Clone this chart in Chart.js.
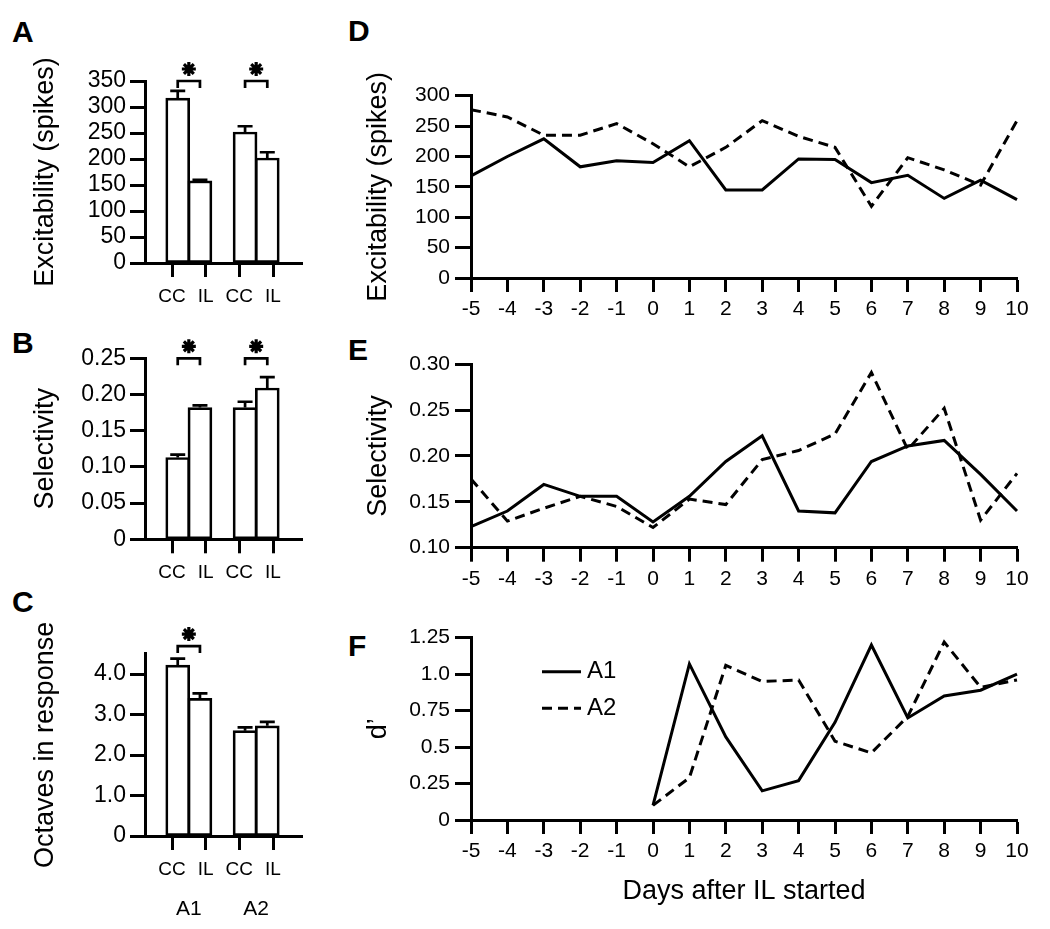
<!DOCTYPE html>
<html>
<head>
<script src="https://cdn.jsdelivr.net/npm/chart.js@4.4.0/dist/chart.umd.min.js"></script>
<style>
  body { margin: 0; background: #fff; width: 1050px; height: 929px; position: relative; overflow: hidden; }
  canvas { position: absolute; }
  .tag { position: absolute; font: bold 30px 'Liberation Sans', Arial, sans-serif; line-height: 30px; }
</style>
</head>
<body>
<div class="tag" style="left:12px;top:17px">A</div>
<div class="tag" style="left:12px;top:328px">B</div>
<div class="tag" style="left:12px;top:587px">C</div>
<div class="tag" style="left:348px;top:16px">D</div>
<div class="tag" style="left:348px;top:335px">E</div>
<div class="tag" style="left:348px;top:631px">F</div>

<canvas id="cA" width="330" height="320" style="left:0;top:0"></canvas>
<canvas id="cB" width="330" height="290" style="left:0;top:300px"></canvas>
<canvas id="cC" width="330" height="329" style="left:0;top:600px"></canvas>
<canvas id="cD" width="710" height="330" style="left:340px;top:0"></canvas>
<canvas id="cE" width="710" height="290" style="left:340px;top:320px"></canvas>
<canvas id="cF" width="710" height="329" style="left:340px;top:600px"></canvas>

<script>
// ---- data (bars ordered CC-A1, IL-A1, CC-A2, IL-A2)
const groups = ['A1', 'A2'];
const conditions = ['CC', 'IL'];
const excitMean = [317, 158, 252, 202];
const excitErr = [14, 2, 11, 11];
const excitSig = [true, true];
const selMean = [0.113, 0.182, 0.182, 0.209];
const selErr = [0.004, 0.003, 0.008, 0.015];
const selSig = [true, true];
const octMean = [4.22, 3.40, 2.60, 2.72];
const octErr = [0.16, 0.12, 0.08, 0.10];
const octSig = [true, false];

const days = [-5, -4, -3, -2, -1, 0, 1, 2, 3, 4, 5, 6, 7, 8, 9, 10];
const excitA1 = [168, 200, 229, 183, 193, 190, 226, 145, 145, 196, 195, 157, 169, 131, 161, 129];
const excitA2 = [277, 265, 235, 235, 254, 221, 183, 215, 259, 233, 215, 118, 198, 178, 153, 259];
const selA1 = [0.123, 0.140, 0.169, 0.156, 0.156, 0.128, 0.156, 0.194, 0.222, 0.140, 0.138, 0.194, 0.211, 0.217, 0.180, 0.140];
const selA2 = [0.175, 0.129, 0.143, 0.156, 0.145, 0.122, 0.153, 0.147, 0.196, 0.206, 0.224, 0.291, 0.207, 0.252, 0.130, 0.181];
const dprimeA1 = [null, null, null, null, null, 0.10, 1.07, 0.57, 0.20, 0.27, 0.67, 1.20, 0.70, 0.85, 0.89, 1.00];
const dprimeA2 = [null, null, null, null, null, 0.10, 0.29, 1.06, 0.95, 0.96, 0.54, 0.46, 0.71, 1.22, 0.91, 0.96];

const FONT = "'Liberation Sans', Arial, Helvetica, sans-serif";
Chart.defaults.font.family = FONT;
Chart.defaults.color = '#000';
Chart.defaults.animation = false;
Chart.defaults.plugins.legend.display = false;
Chart.defaults.plugins.tooltip.enabled = false;

const LW = 3;
const BAR_SHIFT = 0.33; // bar centre offset from pair centre, axis units

function barX(i) {
  const g = Math.floor(i / 2);
  return 2 * g + 1.5 + (i % 2 ? BAR_SHIFT : -BAR_SHIFT);
}

function yAxis(o) {
  return {
    min: o.min, max: o.max,
    border: { display: true, color: '#000', width: LW },
    grid: { drawOnChartArea: false, tickLength: o.tick, tickWidth: LW, tickColor: '#000' },
    ticks: { stepSize: o.step, padding: o.pad, font: { size: o.font }, callback: o.fmt,
             includeBounds: false, autoSkip: false },
    title: { display: true, text: o.title, font: { size: 27 }, padding: { top: o.titlePad, bottom: 0 } },
    afterFit: (s) => { s.width = o.width; },
  };
}

// error bars + significance brackets for the bar panels
const barMarks = {
  id: 'barMarks',
  afterDatasetsDraw(chart, args, o) {
    const { ctx, scales: { x, y } } = chart;
    ctx.save();
    ctx.strokeStyle = '#000';
    ctx.lineWidth = 2.7;
    o.means.forEach((m, i) => {
      const px = x.getPixelForValue(barX(i));
      const top = y.getPixelForValue(m + o.errs[i]);
      ctx.beginPath();
      ctx.moveTo(px, y.getPixelForValue(m));
      ctx.lineTo(px, top);
      ctx.moveTo(px - 7.5, top);
      ctx.lineTo(px + 7.5, top);
      ctx.stroke();
    });
    o.sig.forEach((s, g) => {
      if (!s) return;
      const xl = x.getPixelForValue(barX(2 * g));
      const xr = x.getPixelForValue(barX(2 * g + 1));
      const yb = y.getPixelForValue(o.bracket);
      ctx.lineWidth = 2.7;
      ctx.beginPath();
      ctx.moveTo(xl, yb + 7);
      ctx.lineTo(xl, yb);
      ctx.lineTo(xr, yb);
      ctx.lineTo(xr, yb + 7);
      ctx.stroke();
      const cx = (xl + xr) / 2, cy = yb - 12, r = 7;
      ctx.lineWidth = 3.2;
      ctx.beginPath();
      for (let k = 0; k < 4; k++) {
        const a = k * Math.PI / 4;
        ctx.moveTo(cx - r * Math.cos(a), cy - r * Math.sin(a));
        ctx.lineTo(cx + r * Math.cos(a), cy + r * Math.sin(a));
      }
      ctx.stroke();
    });
    ctx.restore();
  },
};

function barChart(id, o) {
  const scales = {
    x: {
      type: 'linear', min: 0.198, max: 4.861, offset: false,
      border: { display: true, color: '#000', width: LW },
      grid: { drawOnChartArea: false, offset: false, tickLength: 14, tickWidth: LW, tickColor: '#000' },
      ticks: { padding: 8, font: { size: 19 }, callback: (v) => conditions[(v - 1) % 2] },
      afterBuildTicks: (s) => { s.ticks = [1, 2, 3, 4].map((v) => ({ value: v })); },
      afterFit: (s) => { s.height = o.xHeight; },
    },
    y: yAxis({ min: 0, max: o.max, step: o.step, tick: 15, pad: 4, font: 23, fmt: o.fmt,
               title: o.title, titlePad: 29, width: 145 }),
  };
  if (o.groupAxis) {
    scales.x2 = {
      type: 'linear', position: 'bottom', min: 0.198, max: 4.861, offset: false,
      border: { display: false },
      grid: { display: false, drawTicks: false },
      ticks: { padding: 11, font: { size: 21 }, callback: (v) => groups[(v - 1.5) / 2] },
      afterBuildTicks: (s) => { s.ticks = [1.5, 3.5].map((v) => ({ value: v })); },
      afterFit: (s) => { s.height = o.groupAxis; },
    };
  }
  return new Chart(document.getElementById(id), {
    type: 'bar',
    data: {
      datasets: [{
        data: o.means.map((m, i) => ({ x: barX(i), y: m })),
        backgroundColor: '#fff',
        borderColor: '#000',
        borderWidth: 2.7,
        borderSkipped: false,
        barThickness: 24,
      }],
    },
    options: {
      responsive: false,
      devicePixelRatio: 1,
      layout: { padding: { top: o.padTop, right: 28, bottom: 0, left: 0 } },
      scales,
      plugins: { barMarks: { means: o.means, errs: o.errs, sig: o.sig, bracket: o.bracket } },
    },
    plugins: [barMarks],
  });
}

const intFmt = (v) => String(v);
const fmt1 = (v) => (v === 0 ? '0' : v.toFixed(1));
const fmt2 = (v) => (v === 0 ? '0' : v.toFixed(2));

barChart('cA', { means: excitMean, errs: excitErr, sig: excitSig, bracket: 350,
  max: 350, step: 50, fmt: intFmt, title: 'Excitability (spikes)', padTop: 81, xHeight: 57 });
barChart('cB', { means: selMean, errs: selErr, sig: selSig, bracket: 0.25,
  max: 0.25, step: 0.05, fmt: fmt2, title: 'Selectivity', padTop: 58.3, xHeight: 50.7 });
barChart('cC', { means: octMean, errs: octErr, sig: octSig, bracket: 4.69,
  max: 4.5, step: 1, fmt: fmt1, title: 'Octaves in response', padTop: 53.75, xHeight: 50, groupAxis: 43 });

// legend drawn inside the chart area of panel F
const lineKey = {
  id: 'lineKey',
  afterDraw(chart, args, o) {
    if (!o.show) return;
    const { ctx, chartArea } = chart;
    ctx.save();
    ctx.font = o.size + 'px ' + FONT;
    ctx.textBaseline = 'middle';
    chart.data.datasets.forEach((ds, i) => {
      const x = chartArea.left + o.left;
      const y = chartArea.top + o.top + i * o.gap;
      ctx.strokeStyle = ds.borderColor;
      ctx.lineWidth = ds.borderWidth;
      ctx.setLineDash(ds.borderDash || []);
      ctx.beginPath();
      ctx.moveTo(x, y);
      ctx.lineTo(x + o.len, y);
      ctx.stroke();
      ctx.setLineDash([]);
      ctx.fillStyle = '#000';
      ctx.fillText(ds.label, x + o.len + o.space, y);
    });
    ctx.restore();
  },
};

function lineChart(id, o) {
  const line = (label, data, dash) => ({
    label, data, borderColor: '#000', borderWidth: LW, borderDash: dash,
    pointRadius: 0, tension: 0, fill: false, spanGaps: false,
  });
  return new Chart(document.getElementById(id), {
    type: 'line',
    data: {
      labels: days.map(String),
      datasets: [line('A1', o.a1, []), line('A2', o.a2, [10, 6])],
    },
    options: {
      responsive: false,
      devicePixelRatio: 1,
      layout: { padding: { top: o.padTop, right: 33, bottom: 0, left: 0 } },
      scales: {
        x: {
          border: { display: true, color: '#000', width: LW },
          grid: { drawOnChartArea: false, tickLength: 14, tickWidth: LW, tickColor: '#000' },
          ticks: { padding: 5, font: { size: 21 }, autoSkip: false, maxRotation: 0 },
          title: { display: !!o.xTitle, text: o.xTitle, font: { size: 27 }, padding: { top: 0, bottom: 21 } },
          afterFit: (s) => { s.height = o.xHeight; },
        },
        y: yAxis({ min: o.min, max: o.max, step: o.step, tick: 16, pad: 5, font: 21, fmt: o.fmt,
                   title: o.title, titlePad: 22, width: 131 }),
      },
      plugins: { lineKey: { show: !!o.key, left: 71, top: 34, gap: 36.6, len: 39, space: 6, size: 24 } },
    },
    plugins: [lineKey],
  });
}

lineChart('cD', { a1: excitA1, a2: excitA2, min: 0, max: 300, step: 50, fmt: intFmt,
  title: 'Excitability (spikes)', padTop: 95.7, xHeight: 52 });
lineChart('cE', { a1: selA1, a2: selA2, min: 0.1, max: 0.3, step: 0.05, fmt: (v) => v.toFixed(2),
  title: 'Selectivity', padTop: 44.3, xHeight: 62.3 });
lineChart('cF', { a1: dprimeA1, a2: dprimeA2, min: 0, max: 1.25, step: 0.25,
  fmt: (v) => (v === 0 ? '0' : (Math.abs(v * 2 - Math.round(v * 2)) < 1e-9 ? v.toFixed(1) : v.toFixed(2))),
  title: 'd\u2019', padTop: 37.7, xHeight: 109, xTitle: 'Days after IL started', key: true });
</script>
</body>
</html>
